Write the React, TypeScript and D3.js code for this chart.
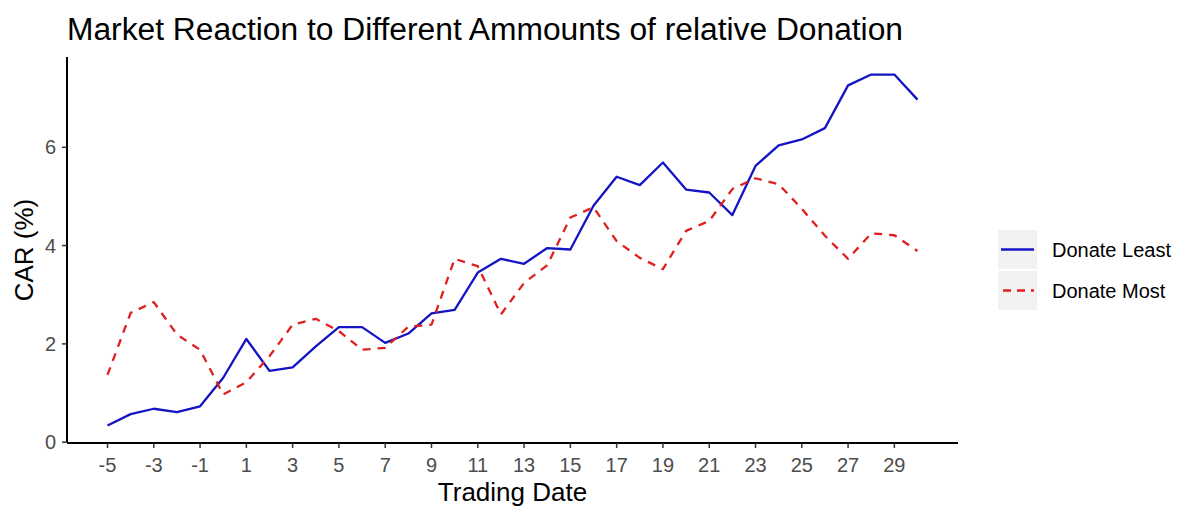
import * as d3 from "d3";

const days = [-5, -4, -3, -2, -1, 0, 1, 2, 3, 4, 5, 6, 7, 8, 9, 10, 11, 12, 13, 14, 15, 16, 17, 18, 19, 20, 21, 22, 23, 24, 25, 26, 27, 28, 29, 30];

const donateLeast = [0.34, 0.57, 0.68, 0.61, 0.73, 1.31, 2.1, 1.45, 1.52, 1.95, 2.34, 2.34, 2.02, 2.21, 2.62, 2.69, 3.45, 3.73, 3.63, 3.95, 3.92, 4.81, 5.4, 5.23, 5.69, 5.14, 5.08, 4.62, 5.62, 6.04, 6.16, 6.39, 7.26, 7.48, 7.48, 6.97];

const donateMost = [1.37, 2.63, 2.85, 2.19, 1.88, 0.97, 1.22, 1.75, 2.39, 2.51, 2.26, 1.88, 1.92, 2.35, 2.39, 3.73, 3.58, 2.6, 3.24, 3.6, 4.57, 4.78, 4.09, 3.75, 3.52, 4.3, 4.5, 5.15, 5.37, 5.25, 4.75, 4.2, 3.73, 4.25, 4.21, 3.89];

const xTicks = [-5, -3, -1, 1, 3, 5, 7, 9, 11, 13, 15, 17, 19, 21, 23, 25, 27, 29];
const yTicks = [0, 2, 4, 6];

const series = [
  { name: "Donate Least", values: donateLeast, color: "#1414c4", dash: "" },
  { name: "Donate Most", values: donateMost, color: "#e0201e", dash: "8,7" },
];

const W = 1179;
const H = 507;
const PLOT = { left: 67, right: 958, top: 57, bottom: 443 };
const FONT = "Liberation Sans, Arial, sans-serif";

export default function App() {
  const allY = [...donateLeast, ...donateMost];
  const [xMin, xMax] = d3.extent(days) as [number, number];
  const [yMin, yMax] = d3.extent(allY) as [number, number];
  const xPad = (xMax - xMin) * 0.05;
  const yPad = (yMax - yMin) * 0.05;

  const x = d3.scaleLinear().domain([xMin - xPad, xMax + xPad]).range([PLOT.left, PLOT.right]);
  const y = d3.scaleLinear().domain([yMin - yPad, yMax + yPad]).range([PLOT.bottom, PLOT.top]);

  const line = d3
    .line<number>()
    .x((_, i) => x(days[i]))
    .y((d) => y(d));

  return (
    <svg
      width={W}
      height={H}
      style={{ position: "absolute", left: 0, top: 0, background: "#fff" }}
      fontFamily={FONT}
    >
      <rect width={W} height={H} fill="#fff" />

      <text x={67} y={40} fontSize={31} fill="#000" textLength={836} lengthAdjust="spacingAndGlyphs">
        Market Reaction to Different Ammounts of relative Donation
      </text>

      {/* lines */}
      {series.map((s) => (
        <path
          key={s.name}
          d={line(s.values) ?? ""}
          fill="none"
          stroke={s.color}
          strokeWidth={2.3}
          strokeDasharray={s.dash || undefined}
          strokeLinejoin="round"
        />
      ))}

      {/* axes */}
      <line x1={PLOT.left} x2={PLOT.left} y1={PLOT.top} y2={PLOT.bottom} stroke="#000" strokeWidth={2} />
      <line x1={PLOT.left} x2={PLOT.right} y1={PLOT.bottom} y2={PLOT.bottom} stroke="#000" strokeWidth={2} />

      {yTicks.map((t) => (
        <g key={`y${t}`}>
          <line x1={PLOT.left - 5} x2={PLOT.left} y1={y(t)} y2={y(t)} stroke="#333" strokeWidth={1.5} />
          <text x={PLOT.left - 11} y={y(t)} dy="0.36em" textAnchor="end" fontSize={20} fill="#4d4d4d">
            {t}
          </text>
        </g>
      ))}

      {xTicks.map((t) => (
        <g key={`x${t}`}>
          <line x1={x(t)} x2={x(t)} y1={PLOT.bottom} y2={PLOT.bottom + 5} stroke="#333" strokeWidth={1.5} />
          <text x={x(t)} y={PLOT.bottom + 29} textAnchor="middle" fontSize={20} fill="#4d4d4d">
            {t}
          </text>
        </g>
      ))}

      <text x={(PLOT.left + PLOT.right) / 2} y={501} textAnchor="middle" fontSize={26} fill="#000">
        Trading Date
      </text>
      <text
        transform={`translate(33,${(PLOT.top + PLOT.bottom) / 2}) rotate(-90)`}
        textAnchor="middle"
        fontSize={26}
        fill="#000"
      >
        CAR (%)
      </text>

      {/* legend */}
      {series.map((s, i) => {
        const top = 230 + i * 41;
        return (
          <g key={`leg${i}`}>
            <rect x={998} y={top} width={39} height={39} fill="#f2f2f2" />
            <line
              x1={1001}
              x2={1034}
              y1={top + 19.5}
              y2={top + 19.5}
              stroke={s.color}
              strokeWidth={2.3}
              strokeDasharray={s.dash ? "8,6" : undefined}
              strokeDashoffset={s.dash ? -2 : 0}
            />
            <text x={1052} y={top + 19.5} dy="0.36em" fontSize={20} fill="#000">
              {s.name}
            </text>
          </g>
        );
      })}
    </svg>
  );
}
